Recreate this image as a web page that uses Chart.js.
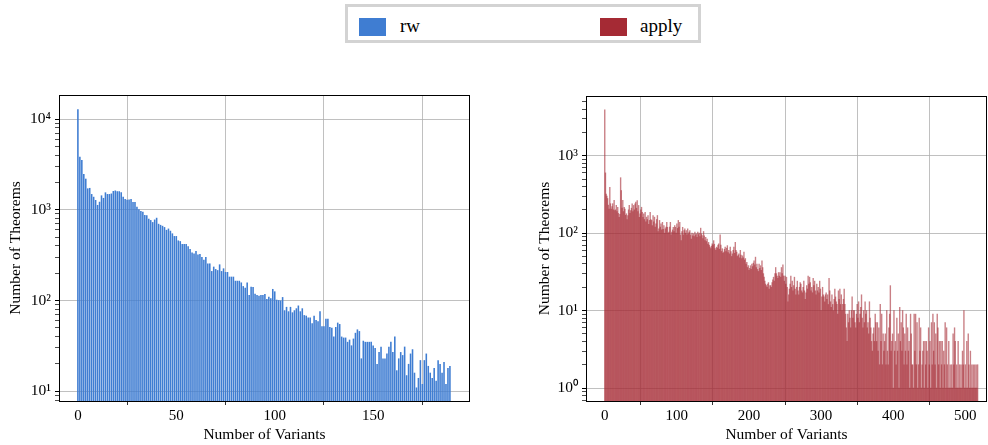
<!DOCTYPE html>
<html><head><meta charset="utf-8">
<script src="https://cdn.jsdelivr.net/npm/chart.js@4.4.1/dist/chart.umd.min.js"></script>
<style>
html,body{margin:0;padding:0;background:#fff;width:988px;height:445px;overflow:hidden;font-family:"Liberation Serif",serif;}
#cl{position:absolute;left:0;top:0;}
#cr{position:absolute;left:500px;top:0;}
#legend{position:absolute;left:345px;top:4px;width:350px;height:33px;border:3px solid #d3d3d3;background:#fff;}
.patch{position:absolute;top:11px;width:27px;height:18px;}
.lab{position:absolute;top:9px;height:19px;line-height:19px;font-size:19px;color:#000;white-space:nowrap;}
</style></head>
<body>
<canvas id="cl" width="490" height="445"></canvas>
<canvas id="cr" width="488" height="445"></canvas>
<div id="legend">
  <div class="patch" style="left:11px;background:#3f7dd2"></div><div class="lab" style="left:52px">rw</div>
  <div class="patch" style="left:252px;background:#a52a34"></div><div class="lab" style="left:292px">apply</div>
</div>
<script>
// ---- data ----
const rwCounts = [12800,3840,3530,2480,2200,1720,1740,1490,1390,1280,
1130,1225,1440,1350,1555,1490,1490,1510,1610,1630,
1600,1600,1555,1390,1310,1290,1300,1310,1215,1215,
1080,1010,970,950,875,870,796,770,731,780,
816,700,681,665,644,600,620,587,549,513,
513,459,451,419,419,419,395,369,339,330,
351,322,325,301,281,301,256,256,211,236,
222,216,250,211,226,206,206,183,183,183,
165,165,165,158,144,138,158,115,142,141,
119,115,113,115,115,118,104,110,106,134,
126,102,101,100,109,78,85,76,85,74,
78,82,88,76,82,69,68,65,65,56,
68,61,59,76,52,52,63,63,51,50,
40,51,57,55,40,39,39,35,37,32,
38,44,48,46,23,36,35,35,35,35,
32,30,20,27,31,23,23,26,31,35,
27,40,17,23,27,25,31,15,20,26,
29,16,11,14,22,12,22,26,19,16,
14,18,13,22,20,16,21,12,18,19];

const applyCounts = [3900,600,320,300,280,230,205,390,240,205, 220,240,200,265,195,200,228,190,215,180,
160,175,520,355,210,265,190,215,205,170, 178,150,169,200,228,180,196,210,239,190,
228,200,239,251,210,264,190,228,160,178, 200,216,186,160,178,150,186,140,161,150,
169,130,146,186,150,146,125,169,140,161, 120,132,150,169,105,114,146,120,132,110,
138,112,125,100,114,120,138,119,100,103, 120,138,95,103,110,119,105,125,119,100,
132,115,146,120,138,95,80,105,119,95, 108,114,100,108,95,114,98,103,
108,95,84,100,92,98,90,103,95,98, 88,103,96,100,90,116,98,93,85,105,
92,80,88,78,84,72,76,70,66,63, 68,73,70,80,72,63,60,66,64,70,
73,62,95,70,58,63,55,57,62,66, 58,64,69,56,60,54,66,58,50,54,
60,66,55,76,60,57,50,52,54,48, 60,52,47,51,48,57,45,47,40,42,
36,38,33,35,38,34,40,37,41,44, 39,49,36,40,34,32,40,35,38,33,
44,36,30,27,24,22,21,20,22,23, 19,21,21,20,23,25,27,24,30,36,
30,28,26,31,28,
31,27,36,30,39,28,24,28,22,27, 20,13,16,19,22,28,20,24,18,21,
27,19,16,20,24,18,16,20,23,22, 18,17,20,24,18,14,17,21,19,28,
22,27,23,18,20,17,26,21,24,18, 16,22,18,20,17,24,19,10,15,20,
16,15,13,16,17,14,16,12,26,18, 13,11,16,12,10,14,19,15,13,12,
9,18,14,19,12,16,10,12,14,19, 12,9,6,4,9,7,10,8,6,10,
15,8,10,10,7,6,9,12,8,13, 7,9,11,16,8,6,10,7,13,9,
10,6,7,5,13,8,6,4,3,5, 6,4,
9,7,4,7,3,6,2,12,4,9, 2,5,3,4,5,2,10,3,2,6,
9,21,3,4,5,1,10,3,4,2, 8,3,5,1,11,4,7,3,10,6,
2,5,3,9,2,6,3,4,1,9, 5,2,2,1,9,3,9,2,7,1,
2,8,3,6,1,2,3,4,1,4, 2,4,3,1,6,2,4,1,7,2,
9,3,7,2,5,1,9,6,2,4, 1,4,2,4,1,3,2,7,1,6,
2,1,4,1,2,1,2,1,5,2, 6,4,1,2,1,4,1,2,1,2,
1,3,2,10,1,2,1,4,1,5, 2,1,3,1,2,1,2,1,2,1,
2,1,2];

const rwVariants = rwCounts.map((_, i) => i);
const applyVariants = applyCounts.map((_, i) => i);

const rwXTicks = [0, 50, 100, 150];
const applyXTicks = [0, 100, 200, 300, 400, 500];
const rwYTicks = [10, 100, 1000, 10000];
const applyYTicks = [1, 10, 100, 1000];

const seriesNames = ['rw', 'apply'];
const xTitle = 'Number of Variants';
const yTitle = 'Number of Theorems';

// ---- drawing ----
const FONT = 'Liberation Serif';
const SUP = '⁰¹²³⁴⁵⁶⁷⁸⁹';
function supLabel(v){ const e = Math.round(Math.log10(v)); return '10' + String(e).split('').map(d=>SUP[+d]).join(''); }

function withMinor(majors, lo, hi){
  const out = [];
  const e0 = Math.floor(Math.log10(lo)) , e1 = Math.ceil(Math.log10(hi));
  for (let e = e0; e <= e1; e++) for (let m = 1; m <= 9; m++) {
    const v = m * Math.pow(10, e);
    if (v >= lo && v <= hi) out.push(v);
  }
  return out;
}
const isMajor = v => Math.abs(Math.log10(v) - Math.round(Math.log10(v))) < 1e-9;

const framePlugin = {
  id: 'frame',
  afterDraw(chart){
    const a = chart.chartArea, c = chart.ctx;
    c.save(); c.strokeStyle = '#000'; c.lineWidth = 1;
    c.strokeRect(Math.round(a.left) + 0.5, Math.round(a.top) + 0.5, Math.round(a.right - a.left) - 1, Math.round(a.bottom - a.top));
    c.restore();
  }
};

function makeChart(id, xs, ys, color, barPct, xTicks, yTicks, xr, yr, yAxisW, pad, yTitlePad){
  const ctx = document.getElementById(id);
  return new Chart(ctx, {
    type: 'bar',
    data: { datasets: [{
      data: ys.map((v, i) => ({ x: xs[i], y: v })),
      backgroundColor: color, borderWidth: 0,
      barPercentage: barPct, categoryPercentage: 1.0
    }]},
    options: {
      responsive: false, animation: false, devicePixelRatio: 1,
      layout: { padding: pad },
      plugins: { legend: { display: false }, tooltip: { enabled: false } },
      scales: {
        x: {
          type: 'linear', min: xr[0], max: xr[1], offset: false, z: 1,
          afterBuildTicks: s => { s.ticks = xTicks.map(v => ({ value: v })); },
          afterFit: s => { s.height = 44; },
          ticks: { autoSkip: false, maxRotation: 0, padding: 2, color: '#000',
                   font: { family: FONT, size: 15 }, callback: v => String(v) },
          grid: { color: '#b0b0b0', lineWidth: 0.8, tickColor: '#000', tickLength: 4, drawTicks: true },
          border: { display: false },
          title: { display: true, text: xTitle, color: '#000', font: { family: FONT, size: 15.5 }, padding: { top: 0, bottom: 1 } }
        },
        y: {
          type: 'logarithmic', min: yr[0], max: yr[1], z: 1,
          afterBuildTicks: s => { s.ticks = withMinor(yTicks, yr[0], yr[1]).map(v => ({ value: v })); },
          afterFit: s => { s.width = yAxisW; },
          ticks: { autoSkip: false, padding: 4, color: '#000', font: { family: FONT, size: 15.5 },
                   callback: v => isMajor(v) ? supLabel(v) : '' },
          grid: {
            color: c => (c.tick && isMajor(c.tick.value)) ? '#b0b0b0' : 'rgba(0,0,0,0)',
            lineWidth: 0.8, tickColor: '#000', tickLength: 4, drawTicks: true,
            tickWidth: c => (c.tick && isMajor(c.tick.value)) ? 1 : 0.7
          },
          border: { display: false },
          title: { display: true, text: yTitle, color: '#000', font: { family: FONT, size: 15.5 }, padding: { top: yTitlePad, bottom: 0 } }
        }
      }
    },
    plugins: [framePlugin]
  });
}

makeChart('cl', rwVariants, rwCounts, '#3f7dd2', 0.8, rwXTicks, rwYTicks,
          [-9.6, 199.2], [7.8, 18400], 59, { left: 0, right: 20, top: 95, bottom: 0 }, 6.7);
makeChart('cr', applyVariants, applyCounts, 'rgba(165,42,52,0.6)', 1.0, applyXTicks, applyYTicks,
          [-26, 530], [0.68, 5900], 86, { left: 0, right: 1, top: 96, bottom: 0 }, 35.7);
</script>
</body></html>
